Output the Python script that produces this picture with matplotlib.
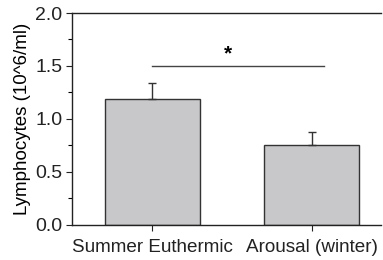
import numpy as np
import matplotlib
matplotlib.use("Agg")
import matplotlib.pyplot as plt
from matplotlib.ticker import MultipleLocator

plt.rcParams.update({
    "font.family": ["Liberation Sans", "DejaVu Sans"], "font.size": 14,
})

groups = ["Summer Euthermic", "Arousal (winter)"]
means = [1.19, 0.755]
sem = [0.15, 0.12]
sig_pair = (0, 1.08)
sig_y = 1.5

fig = plt.figure(figsize=(3.83, 2.60), dpi=100)
ax = fig.add_axes([0.188, 0.135, 0.807, 0.815])

x = np.arange(len(groups))
ax.bar(x, means, width=0.6, color="#c8c8ca", edgecolor="#333333", linewidth=1.0,
       yerr=[[0, 0], sem], error_kw=dict(ecolor="#333333", elinewidth=1.0,
                                         capsize=3, capthick=1.0), zorder=2)

# significance bar
ax.plot(sig_pair, [sig_y, sig_y], color="#444444", lw=1.0)
ax.text(np.mean([0, 1]) - 0.025, 1.52, "*", ha="center", va="bottom",
        fontsize=15, fontweight="bold")

ax.set_xlim(-0.506, 1.437)
ax.set_ylim(0, 2.0)
ax.set_xticks(x)
ax.set_xticklabels(groups)
ax.set_yticks([0, 0.5, 1.0, 1.5, 2.0])
ax.set_yticklabels(["0.0", "0.5", "1.0", "1.5", "2.0"])
ax.yaxis.set_minor_locator(MultipleLocator(0.25))
ax.tick_params(axis="both", which="major", direction="out", length=4, width=0.8, colors="#222222")
ax.tick_params(axis="y", which="minor", direction="out", length=3, width=0.8)
ax.tick_params(axis="y", pad=3)
ax.tick_params(axis="x", pad=6, labelsize=13.6)
ax.set_ylabel("Lymphocytes (10^6/ml)", fontsize=13.5, labelpad=3)
ax.spines["right"].set_visible(False)
for s in ("left", "top", "bottom"):
    ax.spines[s].set_color("#222222")
    ax.spines[s].set_linewidth(1.0)

fig.savefig("out.png", dpi=100)
